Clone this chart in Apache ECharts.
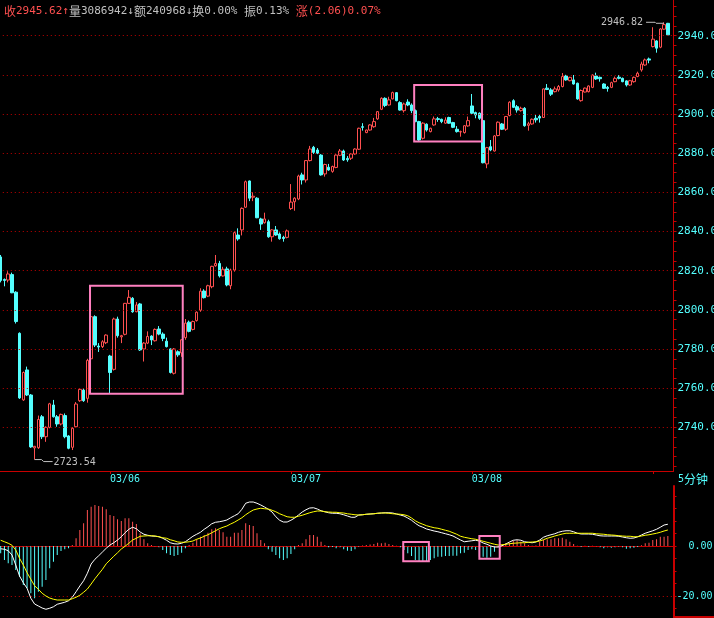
<!DOCTYPE html>
<html><head><meta charset="utf-8">
<script src="https://cdn.jsdelivr.net/npm/echarts@6/dist/echarts.min.js"></script>
<style>html,body{margin:0;padding:0;background:#000;overflow:hidden}#c{width:714px;height:618px}</style>
</head><body><div id="c"></div>
<script>
// ---------- data ----------
const dayLabels = ['03/05','03/06','03/07','03/08','03/09'];
const barsPerDay = [29,48,48,48,6];
const labelDays = ['03/06','03/07','03/08'];
const priceTicks = [2740,2760,2780,2800,2820,2840,2860,2880,2900,2920,2940];
const macdTicks = [0,-20];
const headerText = {close:'2945.62', vol:'3086942', amt:'240968', turn:'0.00%', amp:'0.13%', chg:'(2.06)0.07%'};
const lowMark = {index:9, value:2723.54};
const highMark = {index:176, value:2946.82};

const opens = [
2827,2815.5,2815.2,2818,2809,2788,2754,2769.3,2756.5,2729.5,
2729.6,2745.4,2735.2,2740,2751.4,2745.4,2741.7,2746,2735.6,2729.8,
2740.3,2753.6,2759,2754.8,2775,2796.5,2781.5,2781.2,2783.2,2776.4,
2769.6,2795.3,2786.2,2787.5,2803.3,2805.9,2799,2803,2780,2783,
2786.6,2784.2,2790.2,2787.6,2784,2780,2767.6,2778.6,2778,2785.8,
2793.7,2790,2794.5,2799.8,2809.6,2807,2811.8,2822.5,2823.7,2817.3,
2820.9,2812.3,2820.3,2838.2,2840.8,2852.4,2865.8,2857.5,2857,2846.4,
2844.5,2845,2837.3,2840.8,2838.7,2837,2837,2851.7,2855.2,2856.6,
2868.9,2866.3,2876.2,2883,2881.6,2879,2869.4,2872.8,2870.7,2872.7,
2878.9,2881.1,2877.3,2877.4,2879.6,2882,2893.5,2890.5,2891.8,2893.5,
2897.5,2902.4,2908,2904.6,2907.7,2910.9,2905.8,2901.7,2906.1,2904.6,
2901.7,2896.1,2887.6,2894.8,2891,2894.4,2897.6,2897.3,2895.3,2898.2,
2895.6,2892.2,2890.8,2890.5,2893.9,2904.1,2900.7,2900.4,2896.6,2874.5,
2883.3,2881.1,2889,2894.9,2892.2,2899.2,2906.8,2903.7,2901.7,2902.9,
2894.2,2894.9,2897.8,2898.7,2898.2,2913.2,2912.3,2911.4,2912.3,2914,
2919.4,2917,2917.4,2915.7,2906.8,2911.2,2911.4,2913.6,2919.4,2918.7,
2915.3,2913.6,2913.6,2916.5,2918.8,2918.2,2916.9,2914.8,2916.5,2919.1,
2922.5,2925,2928.1,2934.4,2937.3,2934.1,2943.3,2946.3];
const closes = [
2815,2815,2818.3,2808.7,2794,2755,2768,2756.5,2730,2730.3,
2744,2735.2,2740,2752,2745.4,2741.7,2746.6,2735.2,2729.3,2739.5,
2751.9,2759.4,2753.6,2774.2,2796.5,2782,2781,2783.7,2787.1,2768,
2795.3,2786.8,2786.8,2803.3,2806.4,2799,2802.5,2779.5,2783,2786.4,
2784.6,2790,2787.6,2785.4,2781.2,2768,2780,2777,2784.7,2793.2,
2789,2794,2798.8,2809.5,2806.2,2812.3,2822.2,2823.7,2817.3,2820.7,
2812.7,2820.3,2839.4,2836.2,2851.8,2865.4,2857,2858,2847,2843.8,
2846.4,2837.3,2840.8,2838.2,2836.3,2836.4,2840.3,2855,2857,2868.3,
2866.3,2876.2,2882.1,2880.4,2880,2868.9,2874.2,2871.4,2873.2,2879,
2881.1,2876.5,2876.6,2879.6,2882.1,2892.7,2893.2,2891.8,2894.4,2896.1,
2901.2,2908,2904.3,2907.2,2910.9,2906.8,2902,2905.1,2904.6,2901.7,
2896.1,2886.7,2895.3,2891.8,2892.7,2897.5,2897.2,2896.1,2896.9,2895.3,
2893.2,2891,2891,2894,2896.6,2900.4,2899.5,2897.8,2875.1,2882.8,
2881.6,2888.8,2895.8,2892.2,2898.7,2906,2903.4,2902,2902.9,2894,
2895,2897.3,2897,2897.9,2912.8,2912.5,2910.1,2912.8,2914,2919.1,
2917.4,2918.7,2915.3,2907.7,2912,2913.2,2914.3,2919.9,2917.9,2918,
2913.1,2913,2916,2918.2,2918.2,2916.5,2914.8,2917,2918.7,2920.8,
2925.5,2927.6,2927.5,2938.2,2933.6,2943.4,2945.62,2940.4];
const lows = [
2814,2812,2814,2808.5,2793,2754.5,2753.5,2756,2729.5,2723.54,
2729,2734,2732.6,2739.5,2745,2740.3,2741,2734.4,2728.8,2728.4,
2740,2753,2753,2752.6,2774.5,2781,2778.5,2780.5,2782.5,2757.4,
2769,2785.8,2783,2787,2803,2798.5,2798.8,2779,2773.6,2782.5,
2782,2783.8,2787,2784,2780.8,2767.5,2767,2776,2776,2784.7,
2788.5,2789.5,2794,2799,2805.8,2806.5,2811,2822,2816.5,2817,
2812,2810.5,2819.5,2835.3,2838,2852,2855.5,2855.5,2846.8,2840.8,
2844,2836.8,2834.8,2837.8,2835.8,2834.8,2836.5,2851,2850.6,2856,
2864,2865,2875.8,2879.6,2879.5,2868.5,2868,2871,2870,2872.3,
2878.5,2876,2875.6,2876.5,2879.2,2881.6,2891.5,2890.2,2891.5,2893,
2897,2902,2903.5,2904.3,2907.5,2906.5,2901.7,2900.7,2904,2900.4,
2895.8,2886,2887,2891,2890.6,2894,2896,2895.3,2895,2895,
2892.8,2890.5,2888.4,2890,2893.5,2900,2897.8,2897,2874.8,2872.3,
2881,2880.8,2888.6,2891.8,2891.4,2898.8,2903,2900.7,2901.2,2893.5,
2891.5,2894.5,2895.6,2895.6,2898,2912.2,2909.2,2911,2911.4,2913.6,
2917,2916.7,2915,2907.3,2906.3,2911,2911,2913.2,2917.4,2916.5,
2912.8,2911.4,2913.2,2916.2,2917.7,2916.2,2914,2914.4,2916,2918.8,
2921.6,2924.6,2925.9,2934,2931.3,2933.6,2943,2940.2];
const highs = [
2828,2816,2819.7,2819,2809.5,2788.5,2768.5,2771,2757,2730.5,
2746,2746.3,2740.5,2752.5,2754,2746.3,2747,2747.1,2736,2740,
2752.9,2760,2760,2775,2798,2797.2,2783,2784.5,2787.5,2777,
2796,2796.5,2787.2,2803.5,2810.1,2806.5,2804,2803.5,2783.5,2789,
2787,2790.5,2791.7,2788.5,2785.8,2780.3,2780.5,2779.3,2785,2795.3,
2794.5,2794.5,2799.2,2811,2810.5,2812.8,2822.5,2828,2825,2822,
2822,2821,2840,2841.6,2852.3,2866,2866,2860,2857.5,2847,
2849.6,2846,2841.2,2842.8,2839.5,2837.8,2841,2864.2,2857.5,2869,
2870,2876.5,2883.7,2883.7,2882.6,2879.5,2874.6,2874.5,2873.6,2879.4,
2882.1,2881.8,2878.5,2880,2882.5,2893,2895.3,2892,2894.8,2898,
2901.5,2908.5,2908.5,2908.8,2911.4,2911.2,2906.5,2905.8,2907.5,2905.4,
2902.3,2896.5,2895.8,2895.2,2893,2898.7,2898.5,2897.6,2898.3,2898.6,
2896,2893.8,2891.5,2894.3,2898.7,2910.2,2901.2,2900.8,2897,2883.2,
2886.7,2889.2,2896.2,2895.4,2899,2906.5,2907.5,2904.6,2903.7,2903.5,
2896,2897.7,2899.5,2899.5,2913,2915.3,2913.2,2914,2914.8,2920.9,
2920,2919,2919.9,2916,2912.5,2913.5,2914.6,2920.2,2921.1,2919.1,
2915.7,2914.3,2916.5,2919.1,2919.9,2918.6,2917.2,2917.4,2919.1,2921.6,
2926.7,2928.3,2928.8,2944.3,2937.7,2943.8,2946.82,2946.5];

const dif = [
-1.1,-1.3,-1.9,-3.6,-7.6,-12.0,-14.7,-16.9,-20.9,-23.2,
-24.0,-24.8,-25.3,-24.9,-24.3,-23.3,-22.9,-22.5,-21.9,-20.5,
-18.3,-16.0,-13.9,-10.9,-7.2,-5.3,-3.9,-2.4,-0.9,0.4,
1.3,2.4,3.7,5.3,6.7,7.5,6.9,5.6,4.7,4.3,
4.0,3.9,3.7,3.1,2.3,1.3,0.9,0.8,1.1,1.7,
2.8,3.9,4.7,5.5,6.7,7.7,8.9,9.5,9.7,10.0,
10.4,11.3,12.1,12.9,14.7,17.1,17.6,17.6,17.1,16.4,
15.6,14.7,13.6,11.7,10.3,9.6,9.6,10.3,11.2,12.4,
13.6,14.5,15.2,15.3,14.8,14.1,13.7,13.3,13.1,13.1,
12.9,12.5,12.0,11.5,11.5,12.4,12.5,12.7,12.8,12.9,
13.1,13.2,13.3,13.3,13.2,12.8,12.4,12.0,11.2,10.3,
9.1,8.1,7.5,6.8,6.4,6.0,5.7,5.3,4.9,4.5,
4.0,3.2,2.4,1.7,1.9,2.1,2.3,2.0,1.2,0.7,
0,-0.4,-0.4,0.1,0.8,1.6,2.3,2.5,2.3,1.7,
1.5,1.3,1.6,2.4,3.5,4.1,4.5,4.9,5.5,5.9,
6.1,6.1,5.7,5.1,4.8,4.8,4.8,4.7,4.4,4.1,
4.0,4.0,4.0,4.0,3.9,3.6,3.3,3.1,3.2,3.7,
4.4,5.1,5.6,6.1,6.7,7.5,8.4,8.7];
const dea = [
2.3,1.7,1.1,0.3,-1.6,-4.9,-7.6,-10.7,-13.3,-15.9,
-17.3,-18.9,-20.0,-20.8,-21.3,-21.6,-21.6,-21.6,-21.6,-21.1,
-20.5,-19.7,-18.5,-17.2,-15.2,-13.1,-11.2,-9.3,-7.1,-5.6,
-4.1,-2.7,-1.2,-0.1,1.1,2.4,3.1,3.9,4.0,4.1,
4.1,4.0,3.7,3.3,3.1,2.5,2.1,1.6,1.5,1.5,
1.7,2.0,2.7,3.2,3.9,4.5,5.3,6.1,6.9,7.5,
8.0,8.8,9.5,10.4,11.3,12.5,13.5,14.4,14.8,15.1,
14.9,14.8,14.3,13.7,12.9,12.3,11.7,11.5,11.5,11.9,
12.3,12.8,13.3,13.7,14.0,14.0,13.7,13.6,13.5,13.5,
13.3,13.2,12.9,12.7,12.5,12.4,12.5,12.7,12.8,12.9,
13.1,13.2,13.2,13.1,12.9,12.8,12.7,12.5,12.1,11.2,
10.1,9.3,8.7,8.1,7.7,7.3,7.1,6.7,6.3,5.9,
5.3,4.7,3.9,3.5,3.2,2.9,2.7,2.3,1.9,1.5,
1.1,0.7,0.4,0.5,0.7,0.9,1.1,1.2,1.3,1.3,
1.5,1.6,1.7,2.0,2.5,3.1,3.5,4.0,4.4,4.8,
5.1,5.1,5.1,5.1,5.1,5.1,5.1,5.1,4.9,4.8,
4.7,4.5,4.4,4.3,4.1,4.0,3.9,3.9,3.7,3.7,
4.0,4.3,4.5,4.8,5.1,5.5,6.0,6.4];
const macdHist = [
-2.9,-5.6,-6.9,-7.6,-9.6,-12.3,-15.6,-16.9,-18.9,-20.9,
-18.3,-16.3,-13.6,-8.9,-6.3,-3.6,-2,-1.3,-0.9,0.4,
3.1,6.4,9.1,14.4,15.7,16.4,16,15.7,14.7,12.4,
12,10.7,10,11.1,11.1,9.7,8.8,5.1,2.7,1.1,
0.4,-0.3,-0.5,-1.6,-2.9,-3.6,-4,-3.6,-2.7,-0.9,
0.4,1.3,2.7,3.7,4.4,5.3,6.7,7.1,6.4,5.5,
3.7,3.7,5.3,5.3,6.4,9.1,8.4,8,5.1,2.4,
1.1,-1.3,-2.3,-3.6,-4.9,-5.6,-4.9,-3.2,-1.3,0.4,
1.1,2.7,4.4,4.4,3.7,1.7,0.4,-0.5,-0.4,-0.9,
-0.5,-1.3,-1.9,-2,-1.3,-0.3,0.2,0.4,0.6,0.8,
1.3,1.1,1.3,0.8,0.4,0.1,-0.5,-1.6,-2.9,-4,
-5.6,-6.3,-6,-6,-5.6,-4.9,-4.3,-4.3,-4,-4,
-3.9,-3.9,-2.9,-2.7,-1.6,-1.3,-1.6,-4.3,-4.3,-4.7,
-4.3,-2.3,-0.5,0.4,1.1,1.3,2.1,2.4,1.7,1.1,
0.4,0.1,0.2,1.7,2.4,2.7,2.7,3.1,3.1,3.3,
2.7,1.7,0.8,0.1,-0.3,0.1,-0.3,0.1,-0.1,-0.5,
-0.9,-0.5,-0.7,-0.5,-0.3,-0.5,-1.1,-0.9,-0.7,-0.4,
0.3,1.1,1.3,2.4,2.7,3.7,3.7,4];

// annotation boxes in data space: [grid, startIndex, endIndex, topValue, bottomValue]
const boxes = [
  [0, 23.7, 48.3, 2812.3, 2757.1],
  [0, 109.7, 127.7, 2914.8, 2885.9],
  [1, 106.8, 113.6, 1.6, -6.1],
  [1, 127.0, 132.4, 4.0, -5.1]
];

// ---------- styling ----------
const RED = '#ff5050', CYAN = '#54ffff', GRAY = '#c0c0c0', PINK = '#ff80c0';
const LINE_RED = '#c80000', DOT_RED = '#c00000';
const MONO = '"DejaVu Sans Mono", "Liberation Mono", monospace';
const CJK = '"Noto Sans CJK SC", sans-serif';

const cats = []; const dayStart = {};
dayLabels.forEach((d, k) => {
  for (let j = 0; j < barsPerDay[k]; j++) {
    if (j === 0 && k > 0) dayStart[cats.length] = d;
    cats.push(d + ' #' + j);
  }
});
const candles = opens.map((o, i) => [o, closes[i], lows[i], highs[i]]);
const priceMinor = []; for (let v = 2720; v <= 2955; v += 5) priceMinor.push(v);

const chart = echarts.init(document.getElementById('c'));
chart.setOption({
  backgroundColor: '#000',
  animation: false,
  grid: [
    {left: -1.2, right: 40.5, top: 0, height: 471, containLabel: false, outerBoundsMode: 'none'},
    {left: -1.2, right: 40.5, top: 486, height: 132, containLabel: false, outerBoundsMode: 'none'}
  ],
  xAxis: [
    {type: 'category', gridIndex: 0, data: cats, boundaryGap: true, position: 'bottom',
     axisLine: {lineStyle: {color: LINE_RED, width: 1}},
     axisTick: {show: true, alignWithLabel: true, length: 3, interval: (i) => dayStart[i] !== undefined, lineStyle: {color: LINE_RED}},
     axisLabel: {interval: (i) => dayStart[i] !== undefined && labelDays.indexOf(dayStart[i]) >= 0,
       formatter: (v, i) => dayStart[i] || '', color: CYAN, fontFamily: MONO, fontSize: 10, align: 'left', margin: 3},
     splitLine: {show: false}},
    {type: 'category', gridIndex: 1, data: cats, boundaryGap: true, position: 'top',
     axisLine: {lineStyle: {color: LINE_RED, width: 1}}, axisTick: {show: false}, axisLabel: {show: false}, splitLine: {show: false}}
  ],
  yAxis: [
    {type: 'value', gridIndex: 0, position: 'right', min: 2717.7, max: 2958.2, scale: true,
     axisLine: {show: true, lineStyle: {color: LINE_RED, width: 1}},
     axisTick: {show: true, customValues: priceMinor, length: 3, lineStyle: {color: LINE_RED}},
     axisLabel: {customValues: priceTicks, formatter: (v) => Number(v).toFixed(2), color: CYAN, fontFamily: MONO, fontSize: 11, margin: 4},
     splitLine: {show: false}},
    {type: 'value', gridIndex: 1, position: 'right', min: -28.8, max: 24,
     axisLine: {show: true, lineStyle: {color: LINE_RED, width: 2}},
     axisTick: {show: true, customValues: [-25,-20,-15,-10,-5,0,5,10,15,20], length: 3, lineStyle: {color: LINE_RED}},
     axisLabel: {customValues: macdTicks, formatter: (v) => Number(v).toFixed(2), color: CYAN, fontFamily: MONO, fontSize: 10, align: 'right', margin: 39},
     splitLine: {show: false}}
  ],
  series: [
    {type: 'candlestick', xAxisIndex: 0, yAxisIndex: 0, data: candles, barWidth: 3,
     itemStyle: {color: '#000', color0: CYAN, borderColor: RED, borderColor0: CYAN, borderWidth: 1},
     markLine: {silent: true, animation: false, symbol: ['none','none'], label: {show: false},
       lineStyle: {color: DOT_RED, type: [1,3], width: 1}, data: priceTicks.map(v => ({yAxis: v}))}},
    {type: 'bar', xAxisIndex: 1, yAxisIndex: 1, data: macdHist, barWidth: 1,
     itemStyle: {color: (p) => p.value >= 0 ? RED : CYAN},
     markLine: {silent: true, animation: false, symbol: ['none','none'], label: {show: false},
       lineStyle: {color: DOT_RED, type: [1,3], width: 1}, data: macdTicks.map(v => ({yAxis: v}))}},
    {type: 'line', xAxisIndex: 1, yAxisIndex: 1, data: dif, showSymbol: false, lineStyle: {color: '#ffffff', width: 1}, z: 5},
    {type: 'line', xAxisIndex: 1, yAxisIndex: 1, data: dea, showSymbol: false, lineStyle: {color: '#ffff00', width: 1}, z: 6}
  ]
});

function xAt(axis, f) {
  const a = Math.floor(f);
  const p0 = chart.convertToPixel({xAxisIndex: axis}, a);
  const p1 = chart.convertToPixel({xAxisIndex: axis}, a + 1);
  return p0 + (p1 - p0) * (f - a);
}
function yAt(axis, v) { return chart.convertToPixel({yAxisIndex: axis}, v); }

const g = [];
// header
g.push({type: 'text', x: 4, y: 11, z: 100, style: {
  text: '{r|收}{rn|' + headerText.close + '↑}{g|量}{gn|' + headerText.vol + '↓}{g|额}{gn|' + headerText.amt + '↓}{g|换}{gn|' + headerText.turn + ' }{g|振}{gn|' + headerText.amp + ' }{r|涨}{rn|' + headerText.chg + '}',
  verticalAlign: 'middle',
  rich: {
    r: {fill: RED, fontFamily: CJK, fontSize: 12},
    rn: {fill: RED, fontFamily: MONO, fontSize: 11},
    g: {fill: GRAY, fontFamily: CJK, fontSize: 12},
    gn: {fill: GRAY, fontFamily: MONO, fontSize: 11}
  }}});
// period label
g.push({type: 'text', x: 678, y: 479, z: 100, style: {
  text: '{n|5}{c|分钟}', verticalAlign: 'middle',
  rich: {n: {fill: CYAN, fontFamily: MONO, fontSize: 10}, c: {fill: CYAN, fontFamily: CJK, fontSize: 12}}}});
// bottom border under right axis
g.push({type: 'line', z: 100, shape: {x1: 673.5, y1: 617, x2: 714, y2: 617}, style: {stroke: LINE_RED, lineWidth: 2}});
// low label
{
  const x = xAt(0, lowMark.index), y = yAt(0, lowMark.value);
  g.push({type: 'polyline', z: 100, shape: {points: [[x, y], [x + 7, y], [x + 9, y + 2], [x + 18, y + 2]]}, style: {stroke: GRAY, lineWidth: 1, fill: null}});
  g.push({type: 'text', z: 100, x: x + 19, y: y + 2.5, style: {text: lowMark.value.toFixed(2), fill: GRAY, font: '10px ' + MONO, verticalAlign: 'middle'}});
}
// high label
{
  const x = xAt(0, highMark.index), y = yAt(0, highMark.value);
  g.push({type: 'polyline', z: 100, shape: {points: [[x, y + 1], [x - 8, y + 1], [x - 9, y], [x - 18, y]]}, style: {stroke: GRAY, lineWidth: 1, fill: null}});
  g.push({type: 'text', z: 100, x: x - 21, y: y, style: {text: highMark.value.toFixed(2), fill: GRAY, font: '10px ' + MONO, align: 'right', verticalAlign: 'middle'}});
}
// annotation boxes
boxes.forEach(b => {
  const x0 = xAt(b[0], b[1]), x1 = xAt(b[0], b[2]);
  const y0 = yAt(b[0], b[3]), y1 = yAt(b[0], b[4]);
  g.push({type: 'rect', z: 100, shape: {x: x0, y: y0, width: x1 - x0, height: y1 - y0}, style: {stroke: PINK, lineWidth: 2, fill: null}});
});
chart.setOption({graphic: g});
</script>
</body></html>
